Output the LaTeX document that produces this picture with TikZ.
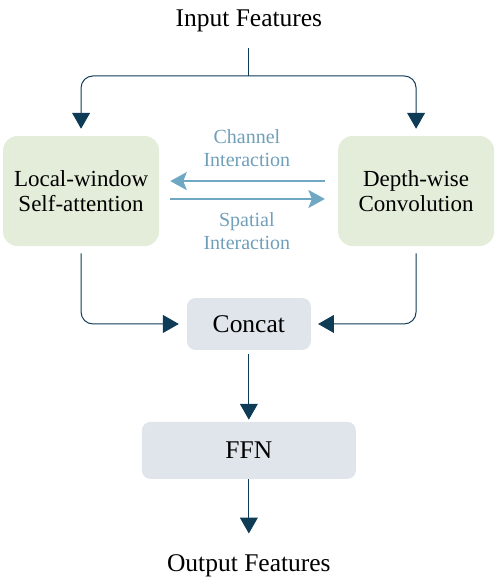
\documentclass[tikz,border=0pt]{standalone}
\usepackage{fontspec}
\setmainfont{Liberation Serif}
\usepackage{xcolor}
\usepackage{tikz}
\usetikzlibrary{arrows.meta}
\definecolor{FDNavy}{HTML}{0E3B56}
\definecolor{FDSky}{HTML}{6FA8C3}
\definecolor{FDSkyText}{HTML}{6F9FB9}
\definecolor{FDGreen}{HTML}{E3EDD9}
\definecolor{FDGrey}{HTML}{DFE5EA}

\begin{document}
\begin{tikzpicture}[x=1cm,y=1cm,
  branchbox/.style={fill=FDGreen,rounded corners=0.5cm,minimum width=5.50cm,minimum height=3.88cm,align=center,font=\fontsize{23bp}{25bp}\selectfont},
  stagebox/.style={fill=FDGrey,rounded corners=0.3cm,align=center,font=\fontsize{25.5bp}{28bp}\selectfont},
  ionote/.style={font=\fontsize{25.5bp}{28bp}\selectfont},
  swapnote/.style={text=FDSkyText,align=center,font=\fontsize{20bp}{23bp}\selectfont},
  flow/.style={FDNavy,line width=1pt,-{Triangle[length=0.56cm,width=0.63cm]},rounded corners=0.42cm},
  swap/.style={FDSky,line width=2.4bp,-{Stealth[length=0.58cm,width=0.63cm,inset=0.12cm]}}]
\path[use as bounding box] (0,0) rectangle (17.53,20.64);
\node[ionote] (inp) at (8.78,19.90) {Input Features};
\coordinate (stem) at (8.78,18.95);
\coordinate (fork) at (8.78,17.96);
\node[branchbox] (lsa) at (2.86,13.90) {Local-window\\Self-attention};
\node[branchbox] (dwc) at (14.68,13.90) {Depth-wise\\Convolution};
\node[swapnote] (chn) at (8.71,15.40) {Channel\\Interaction};
\node[swapnote] (spn) at (8.71,12.49) {Spatial\\Interaction};
\node[stagebox,minimum width=4.37cm,minimum height=1.83cm] (cat) at (8.78,9.21) {Concat};
\node[stagebox,minimum width=7.55cm,minimum height=2.01cm] (ffn) at (8.78,4.75) {FFN};
\node[ionote] (outp) at (8.78,0.68) {Output Features};
\draw[FDNavy,line width=1pt] (stem) -- (fork);
\draw[flow,shorten >=0.25cm] (fork) -| (lsa.north);
\draw[flow,shorten >=0.25cm] (fork) -| (dwc.north);
\draw[swap,shorten <=0.46cm,shorten >=0.39cm] ([yshift=0.35cm]dwc.west) -- ([yshift=0.35cm]lsa.east);
\draw[swap,shorten <=0.39cm,shorten >=0.46cm] ([yshift=-0.28cm]lsa.west -| lsa.east) -- ([yshift=-0.28cm]dwc.west);
\draw[flow,shorten <=0.25cm,shorten >=0.28cm] (lsa.south) |- (cat.west);
\draw[flow,shorten <=0.25cm,shorten >=0.25cm] (dwc.south) |- (cat.east);
\draw[flow,shorten <=0.14cm,shorten >=0.07cm] (cat) -- (ffn);
\draw[flow,shorten >=0.62cm] (ffn) -- (outp);
\end{tikzpicture}
\end{document}
